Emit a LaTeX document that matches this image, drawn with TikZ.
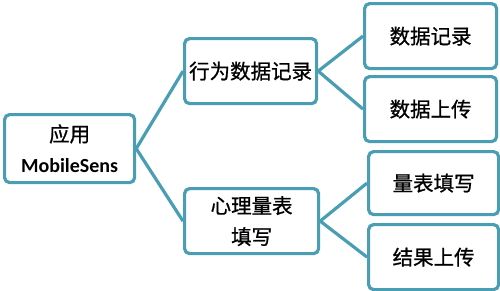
\documentclass[tikz,border=0pt]{standalone}
\usepackage{fontspec}
\setmainfont{Noto Sans CJK SC}[FakeBold=0.8,AutoFakeBold=0.8]
\newfontfamily\latinfont{Carlito}
\usetikzlibrary{positioning}
\definecolor{teal}{RGB}{74,158,180}
\tikzset{
  box/.style={draw=teal, line width=3.2pt, rounded corners=5pt, fill=white,
    anchor=north west, inner sep=0pt, align=center,
    font=\fontsize{20.5}{31}\selectfont\bfseries},
  link/.style={draw=teal, line width=3.2pt}
}
\begin{document}
\begin{tikzpicture}[x=1pt,y=-1pt]
\useasboundingbox (0,0) rectangle (500,290);
\fill[white] (0,0) rectangle (500,290);
\node[box, minimum width=130pt, minimum height=68pt] (root) at (3,113)
  {应用\\{\latinfont\bfseries\fontsize{20}{31}\selectfont MobileSens}};
\node[box, minimum width=132pt, minimum height=65pt] (m1) at (183,37) {行为数据记录};
\node[box, minimum width=134pt, minimum height=65pt] (m2) at (183,187) {心理量表\\填写};
\node[box, minimum width=132pt, minimum height=65pt] (r1) at (363,2) {数据记录};
\node[box, minimum width=132pt, minimum height=65pt] (r2) at (363,75) {数据上传};
\node[box, minimum width=130pt, minimum height=63pt] (r3) at (367,150) {量表填写};
\node[box, minimum width=130pt, minimum height=65pt] (r4) at (367,223) {结果上传};
\draw[link] (root.east) -- (m1.west);
\draw[link] (root.east) -- (m2.west);
\draw[link] (m1.east) -- (r1.west);
\draw[link] (m1.east) -- (r2.west);
\draw[link] (m2.east) -- (r3.west);
\draw[link] (m2.east) -- (r4.west);
\end{tikzpicture}
\end{document}
